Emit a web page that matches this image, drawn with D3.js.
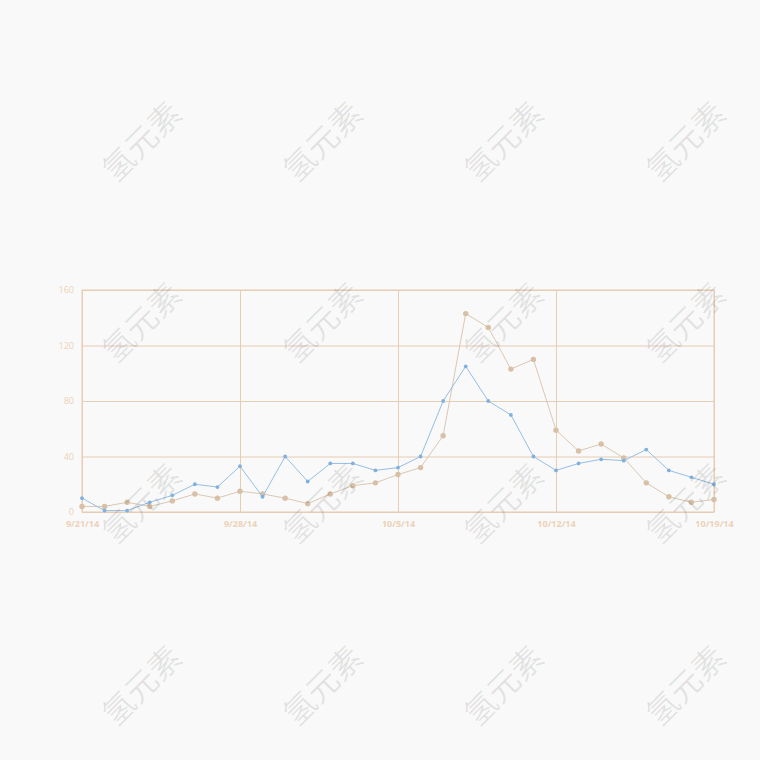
<!DOCTYPE html>
<html>
<head>
<meta charset="utf-8">
<script src="https://cdn.jsdelivr.net/npm/d3@7"></script>
<style>
  html, body { margin: 0; padding: 0; background: #f9f9f9; }
  svg { display: block; }
</style>
</head>
<body>
<svg id="chart" width="760" height="760"></svg>
<script>
const startDate = "2014-09-21";
const dayCount = 29;
const blueValues = [10,1,1,7,12,20,18,33,11,40,22,35,35,30,32,40,80,105,80,70,40,30,35,38,37,45,30,25,20];
const tanValues  = [4,4,7,4,8,13,10,15,13,10,6,13,19,21,27,32,55,143,133,103,110,59,44,49,39,21,11,7,9];
const yTicks = [0, 40, 80, 120, 160];
const xTickLabels = ["9/21/14", "9/28/14", "10/5/14", "10/12/14", "10/19/14"];
const watermarkText = "氢元素";

(function () {
const svg = d3.select("#chart");
svg.append("rect").attr("width", 760).attr("height", 760).attr("fill", "#f9f9f9");

const parse = d3.timeParse("%Y-%m-%d");
const t0 = parse(startDate);
const dates = d3.range(dayCount).map(i => d3.timeDay.offset(t0, i));
const tickDates = xTickLabels.map((_, i) => d3.timeDay.offset(t0, i * 7));

const mLeft = 82, mRight = 714, mTop = 290, mBottom = 512;
const x = d3.scaleTime().domain([dates[0], dates[dates.length - 1]]).range([mLeft, mRight]);
const y = d3.scaleLinear().domain([0, 160]).range([mBottom, mTop]);

const gridColor = "#e7cdb3";
const labelColor = "#ecd2b8";

const yAxis = d3.axisLeft(y).tickValues(yTicks).tickSize(-(mRight - mLeft)).tickPadding(8).tickFormat(d3.format("d"));
const gy = svg.append("g").attr("transform", `translate(${mLeft},0)`).call(yAxis);
gy.select(".domain").remove();
gy.selectAll(".tick line").attr("stroke", gridColor).attr("stroke-width", 1);
gy.selectAll(".tick text").attr("fill", labelColor).attr("font-family", "Open Sans, sans-serif").attr("font-size", 9);

const xAxis = d3.axisBottom(x).tickValues(tickDates).tickSize(-(mBottom - mTop)).tickPadding(9)
  .tickFormat((d, i) => xTickLabels[i]);
const gx = svg.append("g").attr("transform", `translate(0,${mBottom})`).call(xAxis);
gx.select(".domain").remove();
gx.selectAll(".tick line").attr("stroke", gridColor).attr("stroke-width", 1);
gx.selectAll(".tick text").attr("fill", labelColor).attr("font-family", "Open Sans, sans-serif")
  .attr("font-size", 9).attr("font-weight", "bold");

svg.append("rect").attr("x", mLeft).attr("y", mTop).attr("width", mRight - mLeft).attr("height", mBottom - mTop)
  .attr("fill", "none").attr("stroke", gridColor).attr("stroke-width", 1);

const line = d3.line().x((d, i) => x(dates[i])).y(d => y(d));

svg.append("path").datum(tanValues).attr("d", line).attr("fill", "none")
  .attr("stroke", "#dac8b4").attr("stroke-width", 1);
svg.append("g").selectAll("circle").data(tanValues).join("circle")
  .attr("cx", (d, i) => x(dates[i])).attr("cy", d => y(d)).attr("r", 2.7).attr("fill", "#d8c0a6");

svg.append("path").datum(blueValues).attr("d", line).attr("fill", "none")
  .attr("stroke", "#96bfe4").attr("stroke-width", 1);
svg.append("g").selectAll("circle").data(blueValues).join("circle")
  .attr("cx", (d, i) => x(dates[i])).attr("cy", d => y(d)).attr("r", 1.9).attr("fill", "#80b1de");

const wmX = [140, 321, 502, 684];
const wmY = [140, 321, 502, 684];
const wm = svg.append("g").attr("pointer-events", "none");
wmY.forEach(cy => wmX.forEach(cx => {
  wm.append("text").attr("transform", `translate(${cx},${cy}) rotate(-45)`)
    .attr("text-anchor", "middle").attr("dominant-baseline", "central")
    .attr("font-family", "Noto Sans CJK SC, sans-serif").attr("font-size", 32)
    .attr("fill", "#000").attr("fill-opacity", 0.09).text(watermarkText);
}));
})();
</script>
</body>
</html>
